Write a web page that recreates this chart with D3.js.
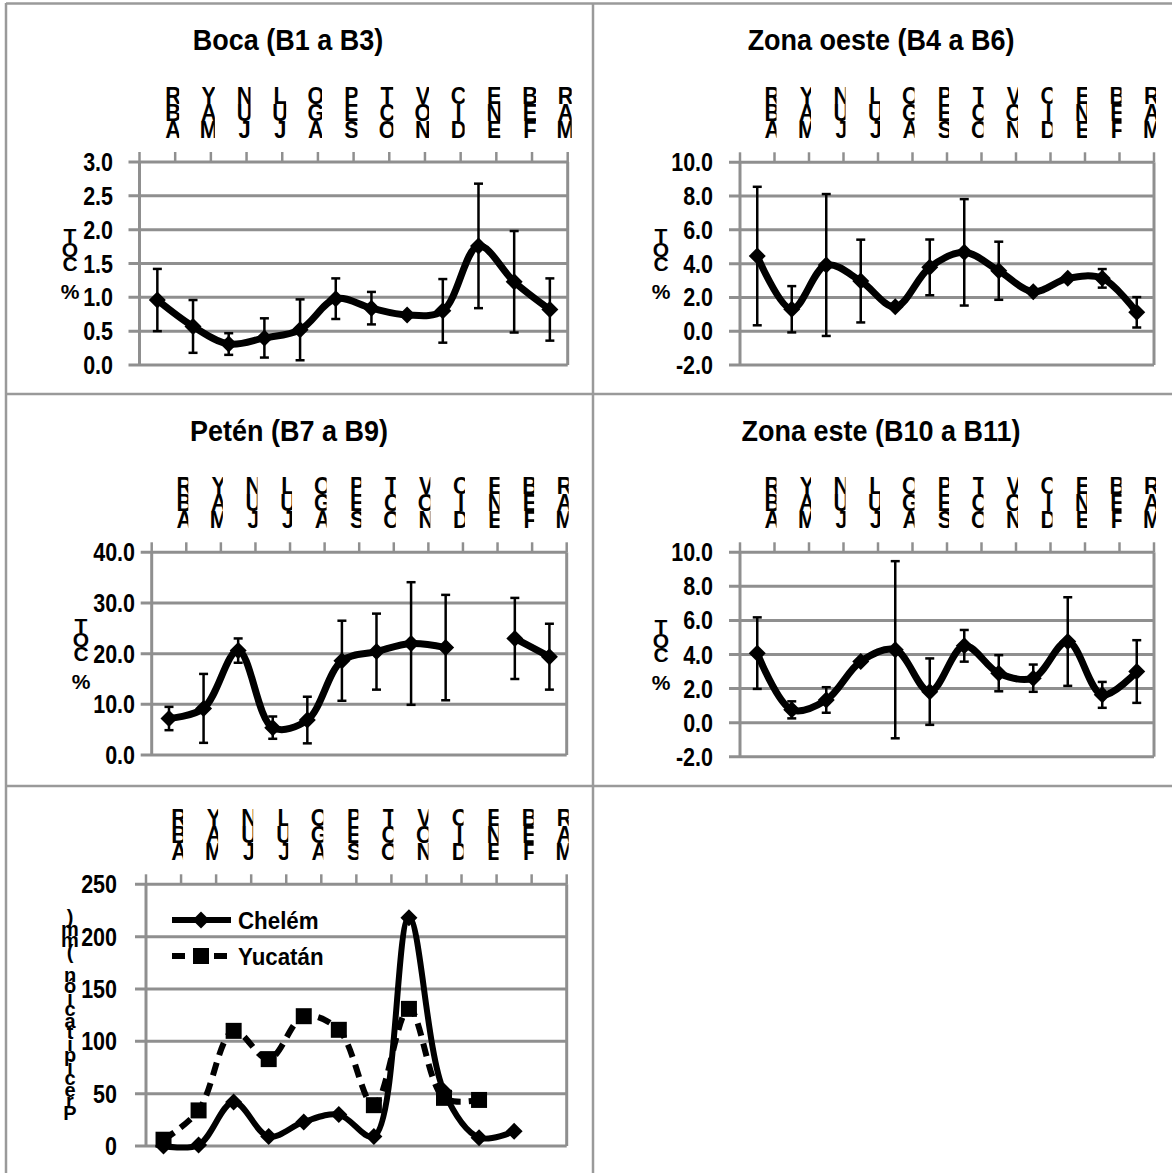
<!DOCTYPE html>
<html>
<head>
<meta charset="utf-8">
<script src="https://cdn.jsdelivr.net/npm/d3@7"></script>
<style>
  html, body { margin: 0; padding: 0; background: #fff; }
  svg { display: block; }
  text { font-family: "Liberation Sans", Arial, sans-serif; font-weight: bold; fill: #000; }
</style>
</head>
<body>
<svg id="chart" width="1172" height="1173"></svg>
<script>
// Monthly sampling, April to March
const months = ["ABR", "MAY", "JUN", "JUL", "AGO", "SEP", "OCT", "NOV", "DIC", "ENE", "FEB", "MAR"];

// TOC (%) means and standard deviations per zone
const bocaMean  = [0.96, 0.57, 0.31, 0.40, 0.52, 0.98, 0.84, 0.74, 0.80, 1.76, 1.23, 0.82];
const bocaErr   = [0.46, 0.39, 0.16, 0.29, 0.45, 0.30, 0.24, null, 0.47, 0.92, 0.75, 0.46];

const oesteMean = [4.45, 1.30, 3.92, 2.97, 1.45, 3.78, 4.67, 3.58, 2.34, 3.13, 3.13, 1.12];
const oesteErr  = [4.10, 1.37, 4.20, 2.45, null, 1.65, 3.15, 1.72, null, null, 0.55, 0.90];

const petenMean = [7.2, 9.2, 20.6, 5.4, 6.9, 18.6, 20.4, 22.0, 21.2, null, 23.0, 19.4];
const petenErr  = [2.3, 6.8, 2.4, 2.2, 4.6, 7.9, 7.5, 12.1, 10.4, null, 8.0, 6.5];

const esteMean  = [4.08, 0.75, 1.33, 3.59, 4.28, 1.82, 4.51, 2.90, 2.61, 4.76, 1.63, 3.00];
const esteErr   = [2.10, 0.50, 0.75, null, 5.20, 1.95, 0.93, 1.06, 0.80, 2.60, 0.76, 1.84];

// Monthly precipitation (mm)
const chelem  = [0, 1, 42, 9, 23, 30, 9, 218, 52, 8, 14, null];
const yucatan = [6, 34, 110, 83, 124, 111, 39, 131, 46, 44, null, null];

// Axis tick values
const bocaTicks  = [0, 0.5, 1, 1.5, 2, 2.5, 3];
const zonaTicks  = [-2, 0, 2, 4, 6, 8, 10];
const petenTicks = [0, 10, 20, 30, 40];
const precTicks  = [0, 50, 100, 150, 200, 250];

const svg = d3.select("#chart");
const GRID = "#8f8f8f";
const FRAME = "#9a9a9a";

// Outer frame and cell separators
const frame = svg.append("g").attr("stroke", FRAME).attr("stroke-width", 2.5).attr("fill", "none");
frame.append("line").attr("x1", 6).attr("y1", 3.5).attr("x2", 1172).attr("y2", 3.5);
frame.append("line").attr("x1", 6).attr("y1", 3).attr("x2", 6).attr("y2", 1173);
frame.append("line").attr("x1", 593).attr("y1", 3).attr("x2", 593).attr("y2", 1173);
frame.append("line").attr("x1", 6).attr("y1", 394).attr("x2", 1172).attr("y2", 394);
frame.append("line").attr("x1", 6).attr("y1", 786).attr("x2", 1172).attr("y2", 786);

// Text helper with slight horizontal condensing
function label(g, str, x, y, size, anchor, sx) {
  return g.append("text")
    .attr("transform", `translate(${x},${y}) scale(${sx || 0.92},1)`)
    .attr("text-anchor", anchor || "start")
    .attr("font-size", size)
    .text(str);
}

const diamond = r => `M0,${-r}L${r},0L0,${r}L${-r},0Z`;
const smooth = d3.curveCatmullRom.alpha(0.5);

let clipId = 0;

function panel(cfg) {
  const g = svg.append("g");
  const x = d3.scaleBand().domain(months).range([cfg.x0, cfg.x1]);
  const y = d3.scaleLinear().domain(cfg.domain).range([cfg.yb, cfg.yt]);
  const cx = m => x(m) + x.bandwidth() / 2;

  // Title
  if (cfg.title) label(g, cfg.title, cfg.titleX, cfg.titleY, 29, "middle", 0.93);

  // Horizontal gridlines (also serve as y-axis ticks)
  g.append("g").selectAll("line").data(cfg.ticks).join("line")
    .attr("x1", cfg.x0 - 11).attr("x2", cfg.x1)
    .attr("y1", d => y(d)).attr("y2", d => y(d))
    .attr("stroke", GRID).attr("stroke-width", 3);

  // Plot border left/right
  g.append("line").attr("x1", cfg.x0).attr("x2", cfg.x0).attr("y1", cfg.yt).attr("y2", cfg.yb)
    .attr("stroke", GRID).attr("stroke-width", 3);
  g.append("line").attr("x1", cfg.x1).attr("x2", cfg.x1).attr("y1", cfg.yt).attr("y2", cfg.yb)
    .attr("stroke", GRID).attr("stroke-width", 3);

  // Category axis on top: ticks at band boundaries
  const bounds = months.map(m => x(m)).concat([cfg.x1]);
  g.append("g").selectAll("line").data(bounds).join("line")
    .attr("x1", d => d).attr("x2", d => d)
    .attr("y1", cfg.yt - 10).attr("y2", cfg.yt)
    .attr("stroke", GRID).attr("stroke-width", 2.5);

  // Month labels, letters stacked bottom-to-top
  months.forEach(m => {
    const lx = x(m) + x.bandwidth() - 2;
    const id = "clip" + (clipId++);
    g.append("clipPath").attr("id", id).append("rect")
      .attr("x", lx - 9).attr("y", cfg.yt - 95).attr("width", cfg.clipW || 13).attr("height", 85);
    const lg = g.append("g").attr("clip-path", `url(#${id})`);
    m.split("").forEach((ch, i) => {
      label(lg, ch, lx, cfg.yt - 24 - i * 17, 23, "middle", 0.95);
    });
  });

  // Y tick labels
  cfg.ticks.forEach(t => {
    label(g, cfg.fmt(t), cfg.labelX, y(t) + 9, 25, "end", 0.86);
  });

  // Y-axis title, letters stacked
  const chars = cfg.ytitle.split("");
  const pitch = cfg.ypitch;
  const ymid = (cfg.yt + cfg.yb) / 2;
  const y0 = ymid - (chars.length - 1) * pitch / 2;
  chars.forEach((ch, i) => {
    label(g, ch, cfg.ytitleX, y0 + i * pitch + 7, cfg.ytitleSize, "middle", 1);
  });

  return { g, x, y, cx };
}

function tocSeries(p, mean, err) {
  const data = months.map((m, i) => ({ m, v: mean[i], e: err[i] }));
  const line = d3.line()
    .defined(d => d.v != null)
    .x(d => p.cx(d.m)).y(d => p.y(d.v))
    .curve(smooth);
  // Error bars
  const eb = p.g.append("g").attr("stroke", "#000").attr("stroke-width", 2.5);
  data.filter(d => d.v != null && d.e != null).forEach(d => {
    const xx = p.cx(d.m);
    const top = p.y(d.v + d.e), bot = p.y(d.v - d.e);
    eb.append("line").attr("x1", xx).attr("x2", xx).attr("y1", top).attr("y2", bot);
    eb.append("line").attr("x1", xx - 4.5).attr("x2", xx + 4.5).attr("y1", top).attr("y2", top);
    eb.append("line").attr("x1", xx - 4.5).attr("x2", xx + 4.5).attr("y1", bot).attr("y2", bot);
  });
  p.g.append("path").datum(data).attr("d", line)
    .attr("fill", "none").attr("stroke", "#000").attr("stroke-width", 7)
    .attr("stroke-linejoin", "round");
  p.g.append("g").selectAll("path").data(data.filter(d => d.v != null)).join("path")
    .attr("d", diamond(8.5))
    .attr("transform", d => `translate(${p.cx(d.m)},${p.y(d.v)})`)
    .attr("fill", "#000");
}

const f1 = v => v.toFixed(1);

const p1 = panel({
  title: "Boca (B1 a B3)", titleX: 288, titleY: 50,
  x0: 139.5, x1: 567.7, yt: 162, yb: 365, domain: [0, 3], ticks: bocaTicks, fmt: f1,
  labelX: 113, ytitle: "TOC %", ytitleX: 70, ypitch: 14, ytitleSize: 21, clipW: 15
});
tocSeries(p1, bocaMean, bocaErr);

const p2 = panel({
  title: "Zona oeste (B4 a B6)", titleX: 881, titleY: 50,
  x0: 740, x1: 1154, yt: 162.3, yb: 365, domain: [-2, 10], ticks: zonaTicks, fmt: f1,
  labelX: 713, ytitle: "TOC %", ytitleX: 661, ypitch: 14, ytitleSize: 21
});
tocSeries(p2, oesteMean, oesteErr);

const p3 = panel({
  title: "Petén (B7 a B9)", titleX: 289, titleY: 441,
  x0: 151.7, x1: 566.7, yt: 552.3, yb: 755, domain: [0, 40], ticks: petenTicks, fmt: f1,
  labelX: 135, ytitle: "TOC %", ytitleX: 81, ypitch: 14, ytitleSize: 21
});
tocSeries(p3, petenMean, petenErr);

const p4 = panel({
  title: "Zona este (B10 a B11)", titleX: 881, titleY: 441,
  x0: 740, x1: 1154, yt: 552.3, yb: 756.7, domain: [-2, 10], ticks: zonaTicks, fmt: f1,
  labelX: 713, ytitle: "TOC %", ytitleX: 661, ypitch: 14, ytitleSize: 21
});
tocSeries(p4, esteMean, esteErr);

// Precipitation panel
const p5 = panel({
  title: null,
  x0: 146, x1: 566.7, yt: 884.3, yb: 1146, domain: [0, 250], ticks: precTicks, fmt: d3.format("d"),
  labelX: 117, ytitle: "Precipitación (mm)".split("").reverse().join(""), ytitleX: 70,
  ypitch: 11.5, ytitleSize: 20
});

function precSeries(p, vals, dashed, markerPath) {
  const data = months.map((m, i) => ({ m, v: vals[i] }));
  const line = d3.line()
    .defined(d => d.v != null)
    .x(d => p.cx(d.m)).y(d => p.y(d.v))
    .curve(smooth);
  p.g.append("path").datum(data).attr("d", line)
    .attr("fill", "none").attr("stroke", "#000").attr("stroke-width", 6)
    .attr("stroke-dasharray", dashed ? "13,8" : null)
    .attr("stroke-linejoin", "round");
  p.g.append("g").selectAll("path").data(data.filter(d => d.v != null)).join("path")
    .attr("d", markerPath)
    .attr("transform", d => `translate(${p.cx(d.m)},${p.y(d.v)})`)
    .attr("fill", "#000");
}

const squarePath = "M-8,-8H8V8H-8Z";
precSeries(p5, yucatan, true, squarePath);
precSeries(p5, chelem, false, diamond(8.5));

// Legend
const legend = [
  { name: "Chelém", dashed: false, marker: diamond(8.5), y: 920 },
  { name: "Yucatán", dashed: true, marker: squarePath, y: 956 }
];
legend.forEach(l => {
  p5.g.append("line").attr("x1", 172).attr("x2", 231).attr("y1", l.y).attr("y2", l.y)
    .attr("stroke", "#000").attr("stroke-width", 6)
    .attr("stroke-dasharray", l.dashed ? "13,8" : null);
  p5.g.append("path").attr("d", l.marker).attr("transform", `translate(201,${l.y})`).attr("fill", "#000");
  label(p5.g, l.name, 238, l.y + 8.5, 24, "start", 0.93);
});
</script>
</body>
</html>
